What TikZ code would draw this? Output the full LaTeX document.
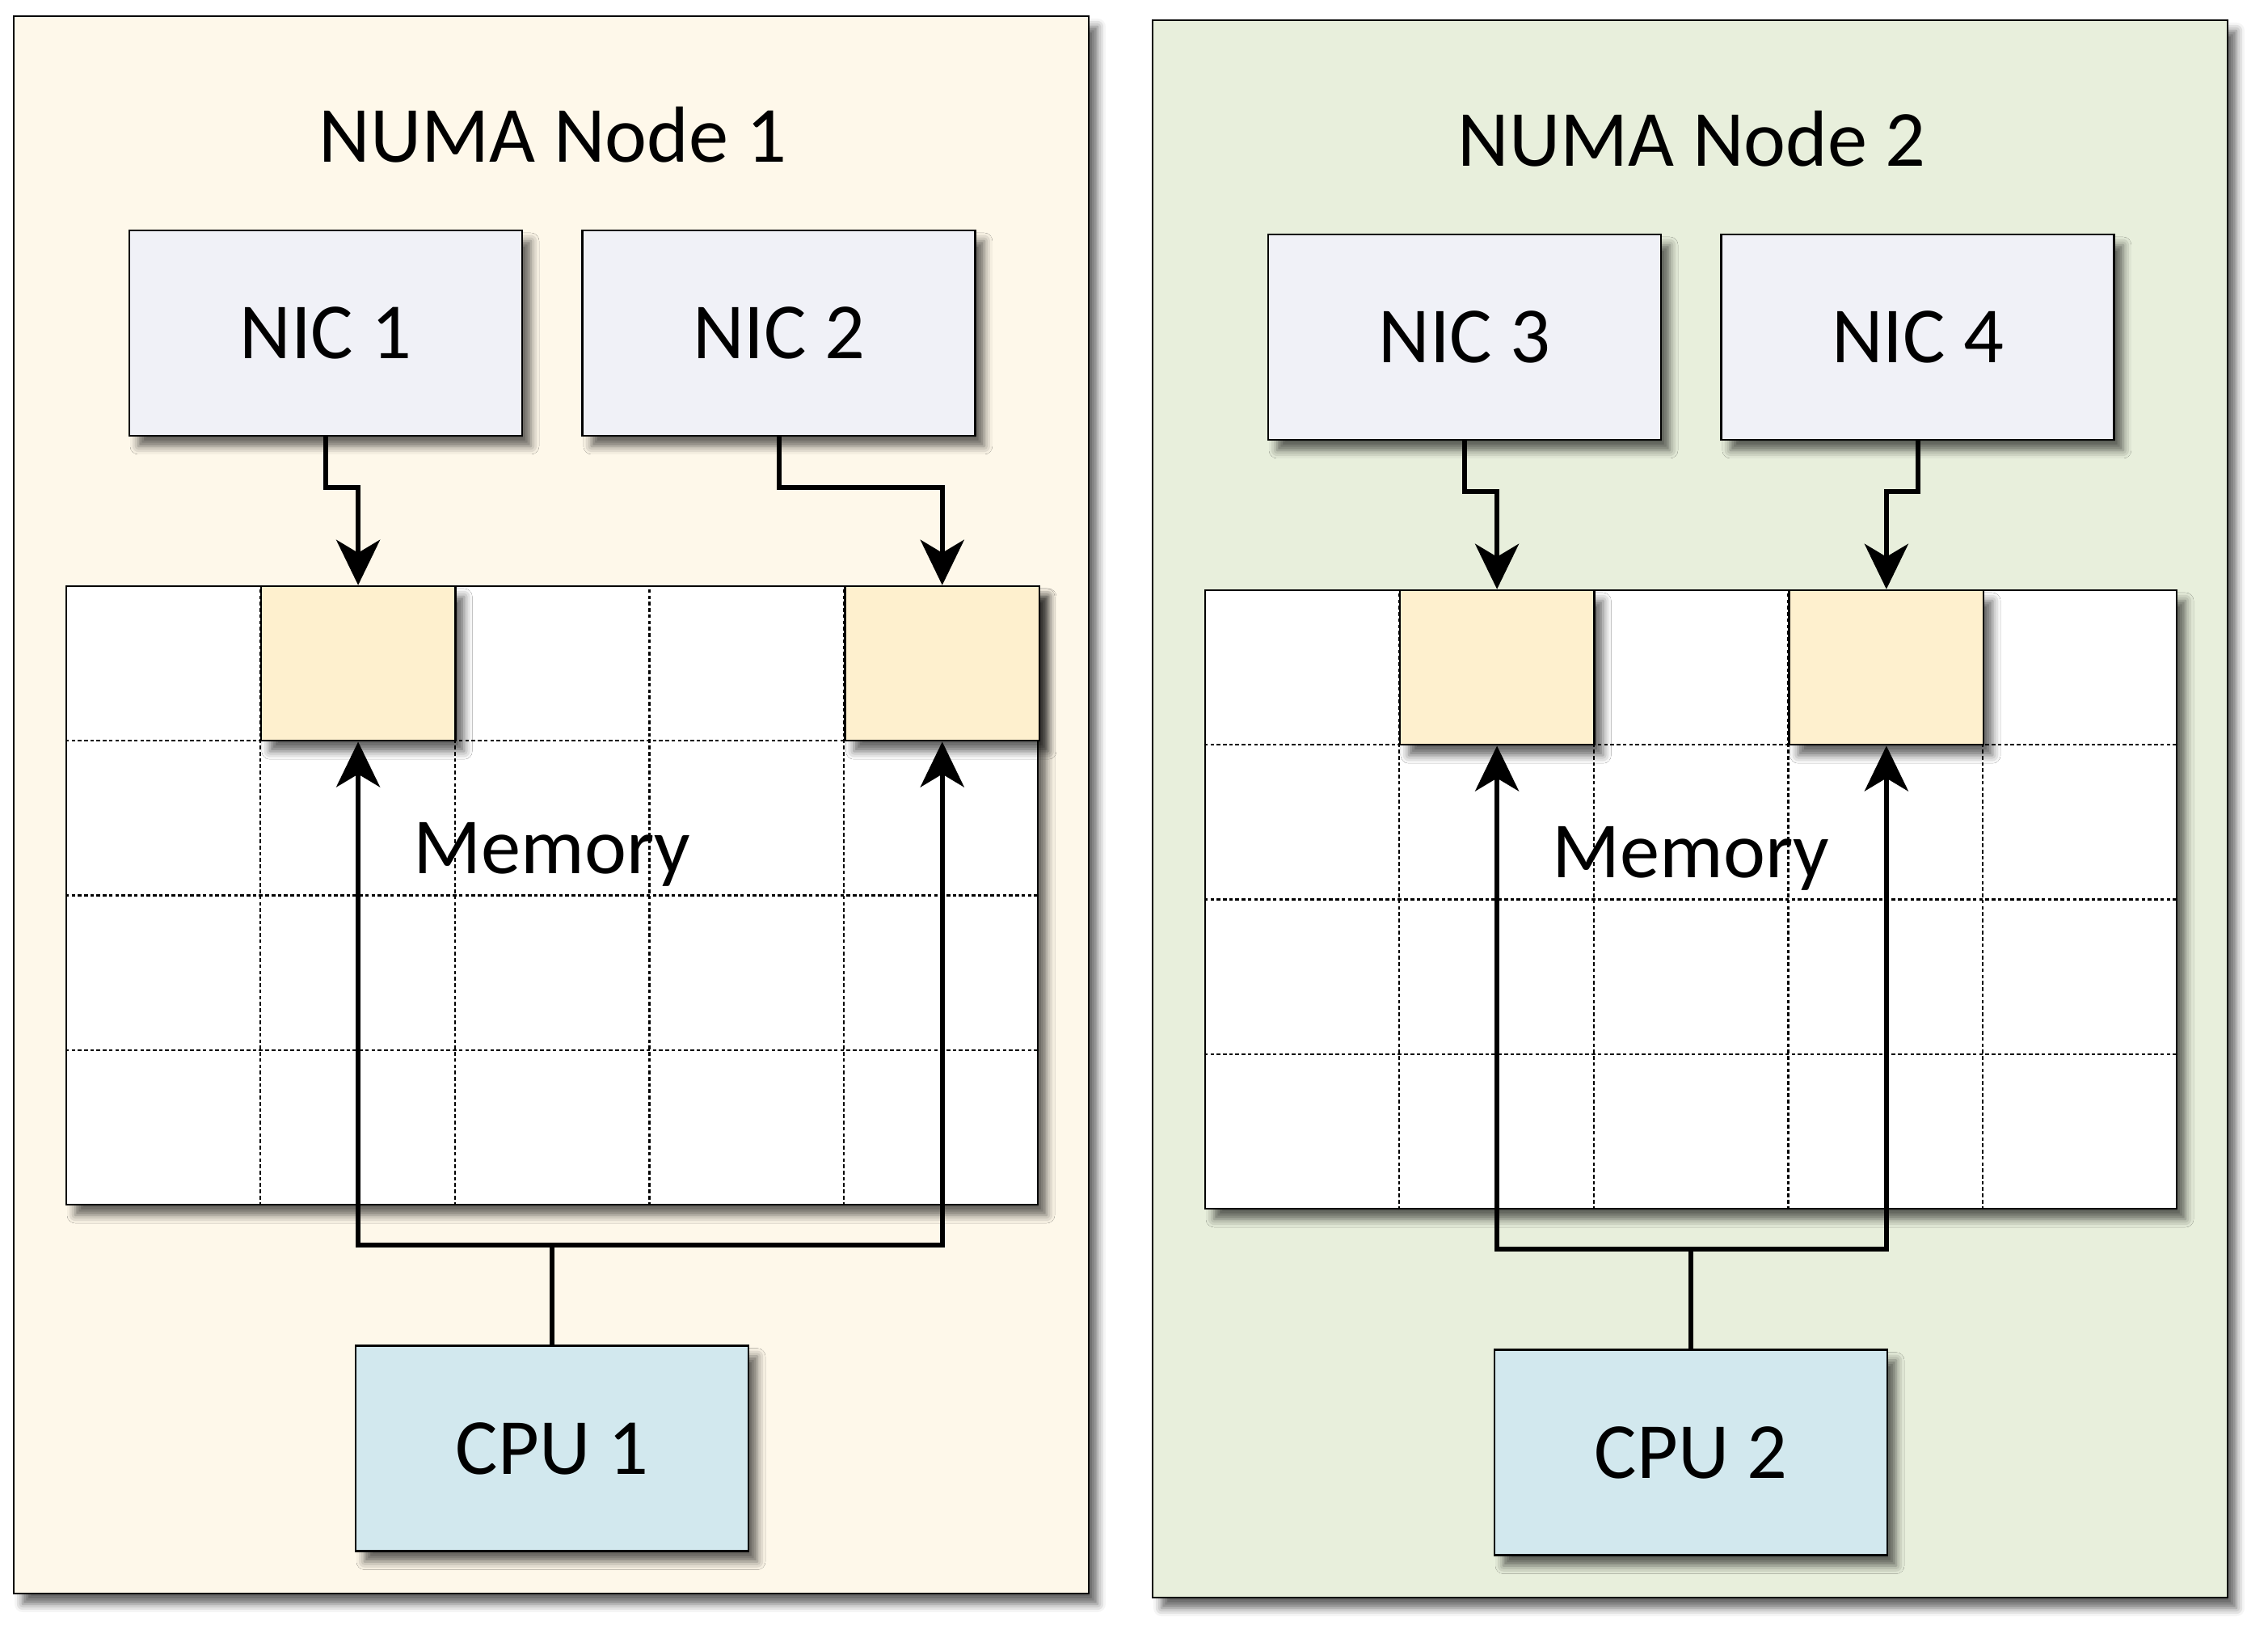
\documentclass[tikz,border=0pt]{standalone}
\usepackage{fontspec}
\setmainfont{Carlito}
\usetikzlibrary{arrows.meta, positioning, calc, shadows.blur}

\definecolor{creambg}{HTML}{FEF8EA}
\definecolor{sagebg}{HTML}{E8EFDC}
\definecolor{nicfill}{HTML}{F0F1F7}
\definecolor{cpufill}{HTML}{D2E8EE}
\definecolor{slotfill}{HTML}{FEF0CE}

\tikzset{
  soft shadow/.style={blur shadow={shadow xshift=0.11cm, shadow yshift=-0.13cm,
      shadow blur radius=0.1cm, shadow opacity=60}},
  panel/.style={draw, line width=0.7pt, soft shadow, minimum width=13.30cm, minimum height=19.51cm},
  bigtext/.style={font=\fontsize{28}{34}\selectfont},
  nicbox/.style={draw, line width=0.8pt, fill=nicfill, soft shadow, bigtext,
      minimum width=4.86cm, minimum height=2.54cm},
  cpubox/.style={nicbox, fill=cpufill},
  membox/.style={draw, line width=0.7pt, fill=white, soft shadow,
      minimum width=12.02cm, minimum height=7.65cm},
  slot/.style={draw, line width=0.7pt, fill=slotfill, soft shadow,
      minimum width=2.404cm, minimum height=1.9125cm, anchor=north west},
  gridline/.style={line width=0.6pt, dash pattern=on 1.3pt off 0.9pt},
  wire/.style={line width=1.7pt},
  flow/.style={wire, -{Stealth[length=5.6mm, width=5.4mm, inset=1.6mm]}}
}

\begin{document}
\begin{tikzpicture}
\useasboundingbox (0,0) rectangle (28.06,20.25);

% one NUMA node per pass
\foreach \p/\dx/\dy/\bg/\na/\nb/\ca/\cb in {1/0/0/creambg/1/2/2/5, 2/14.09/-0.05/sagebg/3/4/2/4} {
\begin{scope}[shift={(\dx,\dy)}]
  \node[panel, fill=\bg] (numa\p) at (6.82,10.295) {};
  \node[bigtext, anchor=base] (title\p) at (6.84,18.24) {NUMA Node \p};

  \node[nicbox] (nicA\p) at (4.03,16.13) {NIC \na};
  \node[nicbox, right=0.72cm of nicA\p] (nicB\p) {NIC \nb};

  % memory grid
  \node[membox] (mem\p) at (6.83,9.175) {};
  \foreach \i in {1,...,4}
    \draw[gridline] ($(mem\p.south west)!\i/5!(mem\p.south east)$) -- ($(mem\p.north west)!\i/5!(mem\p.north east)$);
  \foreach \j in {1,...,3}
    \draw[gridline] ($(mem\p.south west)!\j/4!(mem\p.north west)$) -- ($(mem\p.south east)!\j/4!(mem\p.north east)$);
  \node[slot] (slotA\p) at ($(mem\p.north west)!{(\ca-1)/5}!(mem\p.north east)$) {};
  \node[slot] (slotB\p) at ($(mem\p.north west)!{(\cb-1)/5}!(mem\p.north east)$) {};
  \node[bigtext, anchor=base] (memtxt\p) at ($(mem\p.center)+(0,0.27)$) {Memory};

  \node[cpubox, below=1.72cm of mem\p] (cpu\p) {CPU \p};

  % NIC -> buffer
  \draw[flow] (nicA\p.south) -- ++(0,-0.63) -| (slotA\p.north);
  \draw[flow] (nicB\p.south) -- ++(0,-0.63) -| (slotB\p.north);

  % CPU -> buffer
  \draw[wire] (cpu\p.north) -- ++(0,1.23) coordinate (bus\p);
  \draw[flow] (bus\p) -| (slotA\p.south);
  \draw[flow] (bus\p) -| (slotB\p.south);
\end{scope}
}
\end{tikzpicture}
\end{document}
